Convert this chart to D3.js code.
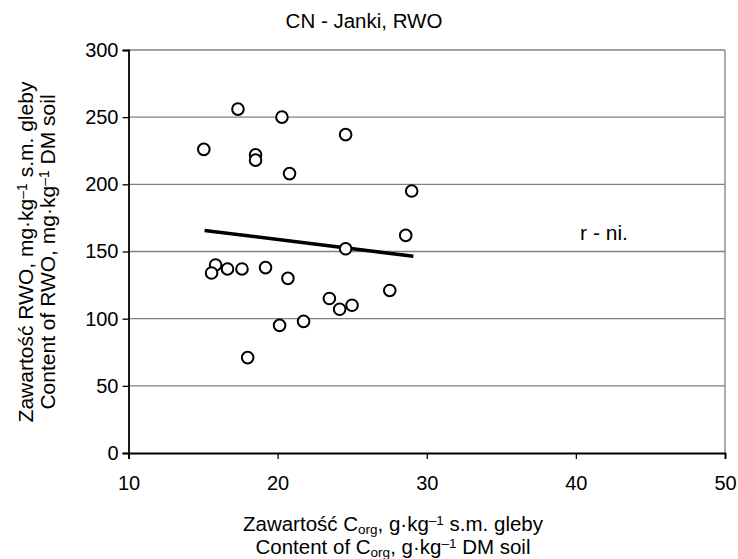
<!DOCTYPE html>
<html>
<head>
<meta charset="utf-8">
<script src="https://cdn.jsdelivr.net/npm/d3@7/dist/d3.min.js"></script>
<style>
  html, body { margin: 0; padding: 0; background: #fff; }
  svg { display: block; font-family: Arial, "Liberation Sans", sans-serif; }
</style>
</head>
<body>
<svg id="chart" width="738" height="559"></svg>
<script>
// Organic carbon content (g/kg) and RWO content (mg/kg), CN - Janki
const corg = [15.05, 17.34, 20.29, 24.56, 18.52, 18.52, 20.80, 28.99, 28.59, 24.56,
              15.84, 15.57, 16.64, 17.61, 19.19, 20.69, 23.47, 24.16, 24.99, 27.52,
              20.13, 21.74, 17.99];
const rwo  = [226, 256, 250, 237, 222, 218, 208, 195, 162, 152,
              140, 134, 137, 137, 138, 130, 115, 107, 110, 121,
              95, 98, 71];
// Linear trend line end points
const trendX = [15.1, 29.1];
const trendY = [165.7, 146.4];
const xTicks = [10, 20, 30, 40, 50];
const yTicks = [0, 50, 100, 150, 200, 250, 300];

const svg = d3.select("#chart");
const plotLeft = 128.5, plotRight = 725, plotTop = 50, plotBottom = 453;
const FONT = "Arial, 'Liberation Sans', sans-serif";

const x = d3.scaleLinear().domain([10, 50]).range([plotLeft, plotRight]);
const y = d3.scaleLinear().domain([0, 300]).range([plotBottom, plotTop]);

// horizontal gridlines
svg.append("g").selectAll("line")
  .data(yTicks.filter(d => d > 0))
  .join("line")
  .attr("x1", plotLeft).attr("x2", plotRight)
  .attr("y1", d => y(d)).attr("y2", d => y(d))
  .attr("stroke", "#808080").attr("stroke-width", 1.3);

// right border
svg.append("line")
  .attr("x1", plotRight).attr("x2", plotRight).attr("y1", plotTop).attr("y2", plotBottom)
  .attr("stroke", "#808080").attr("stroke-width", 1.3);

// axes
const yAxis = d3.axisLeft(y).tickValues(yTicks).tickSize(6).tickPadding(4);
const xAxis = d3.axisBottom(x).tickValues(xTicks).tickSize(6).tickPadding(17);

const gy = svg.append("g").attr("transform", `translate(${plotLeft},0)`).call(yAxis);
const gx = svg.append("g").attr("transform", `translate(0,${plotBottom})`).call(xAxis);
[gx, gy].forEach(g => {
  g.select(".domain").attr("stroke", "#000").attr("stroke-width", 1.8);
  g.selectAll(".tick line").attr("stroke", "#000").attr("stroke-width", 1.3);
  g.selectAll(".tick text").attr("fill", "#000")
    .style("font-size", "20px").style("font-family", FONT);
});

// trend line
svg.append("line")
  .attr("x1", x(trendX[0])).attr("y1", y(trendY[0]))
  .attr("x2", x(trendX[1])).attr("y2", y(trendY[1]))
  .attr("stroke", "#000").attr("stroke-width", 3.5);

// points
svg.append("g").selectAll("circle")
  .data(corg.map((c, i) => [c, rwo[i]]))
  .join("circle")
  .attr("cx", d => x(d[0])).attr("cy", d => y(d[1]))
  .attr("r", 5.8)
  .attr("fill", "#fff").attr("stroke", "#000").attr("stroke-width", 2);

// title
svg.append("text")
  .attr("x", 364).attr("y", 28)
  .attr("text-anchor", "middle").style("font-size", "20.5px")
  .text("CN - Janki, RWO");

// annotation
svg.append("text")
  .attr("x", 604).attr("y", 240)
  .attr("text-anchor", "middle").style("font-size", "21px")
  .text("r - ni.");

// x-axis title (two lines with subscript/superscript)
function xTitleLine(yPos, parts) {
  const t = svg.append("text")
    .attr("x", 393).attr("y", yPos)
    .attr("text-anchor", "middle").style("font-size", "20.5px");
  parts.forEach(p => {
    const s = t.append("tspan").text(p.t);
    if (p.sub) s.attr("baseline-shift", "-18%").style("font-size", "13.5px");
    if (p.sup) s.attr("baseline-shift", "40%").style("font-size", "13.5px");
  });
}
xTitleLine(531, [{t: "Zawartość C"}, {t: "org", sub: true}, {t: ", g·kg"}, {t: "–1", sup: true}, {t: " s.m. gleby"}]);
xTitleLine(554, [{t: "Content of C"}, {t: "org", sub: true}, {t: ", g·kg"}, {t: "–1", sup: true}, {t: " DM soil"}]);

// y-axis title
function yTitleLine(xPos, parts) {
  const t = svg.append("text")
    .attr("transform", `translate(${xPos},252) rotate(-90)`)
    .attr("text-anchor", "middle").style("font-size", "21px");
  parts.forEach(p => {
    const s = t.append("tspan").text(p.t);
    if (p.sup) s.attr("baseline-shift", "42%").style("font-size", "14px");
  });
}
yTitleLine(33, [{t: "Zawartość RWO, mg·kg"}, {t: "–1", sup: true}, {t: " s.m. gleby"}]);
yTitleLine(55, [{t: "Content of RWO, mg·kg"}, {t: "–1", sup: true}, {t: " DM soil"}]);
</script>
</body>
</html>
